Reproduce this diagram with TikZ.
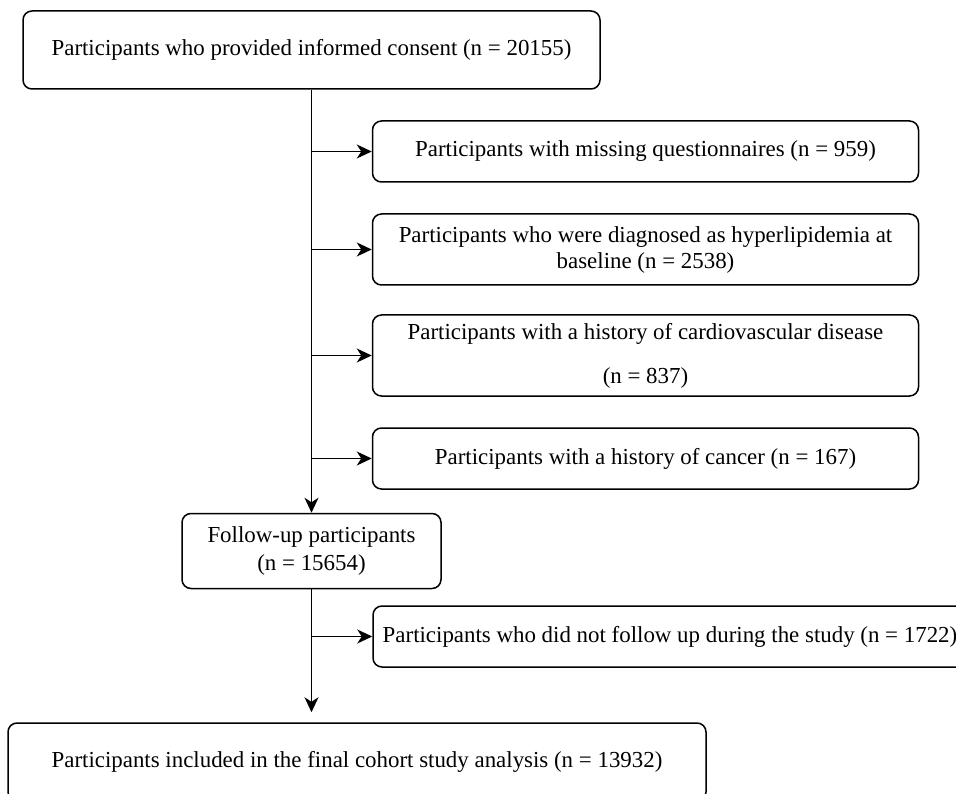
\documentclass[tikz,border=0pt]{standalone}
\usepackage{fontspec}
\setmainfont{Liberation Serif}
\usetikzlibrary{arrows.meta}
\begin{document}
\begin{tikzpicture}[x=1pt,y=-1pt,
  box/.style={draw, line width=1.5pt, rounded corners=9pt, align=center, inner sep=0pt,
    font=\fontsize{22.9}{26}\selectfont},
  arr/.style={draw, line width=1.5pt, -{Stealth[length=15pt,width=14pt,inset=4.5pt]}}]
\useasboundingbox (0,0) rectangle (956,794);
\clip (0,0) rectangle (956,794);
\node[box, minimum width=577pt, minimum height=78pt] (b1) at (311.5,50) {Participants who provided informed consent (n = 20155)};
\node[box, minimum width=546pt, minimum height=61pt] (b2) at (645.5,151.5) {Participants with missing questionnaires (n = 959)};
\node[box, minimum width=546pt, minimum height=71pt] (b3) at (645.5,249.5) {Participants who were diagnosed as hyperlipidemia at\\baseline (n = 2538)};
\node[box, minimum width=546pt, minimum height=81pt] (b4) at (645.5,355.5) {Participants with a history of cardiovascular disease\\[18pt](n = 837)};
\node[box, minimum width=546pt, minimum height=61pt] (b5) at (645.5,458.5) {Participants with a history of cancer (n = 167)};
\node[box, minimum width=259pt, minimum height=75pt, font=\fontsize{22.9}{28}\selectfont] (b6) at (311.5,551) {Follow-up participants\\(n = 15654)};
\node[box, minimum width=594pt, minimum height=61pt] (b7) at (670,636.5) {Participants who did not follow up during the study (n = 1722)};
\node[box, minimum width=698pt, minimum height=78pt] (b8) at (357,762) {Participants included in the final cohort study analysis (n = 13932)};
\draw[arr] (b1.south) -- (b6.north);
\draw[arr] (b1.south |- b2.west) -- (b2.west);
\draw[arr] (b1.south |- b3.west) -- (b3.west);
\draw[arr] (b1.south |- b4.west) -- (b4.west);
\draw[arr] (b1.south |- b5.west) -- (b5.west);
\draw[arr, shorten >=10pt] (b6.south) -- (b6.south |- b8.north);
\draw[arr] (b6.south |- b7.west) -- (b7.west);
\end{tikzpicture}
\end{document}
